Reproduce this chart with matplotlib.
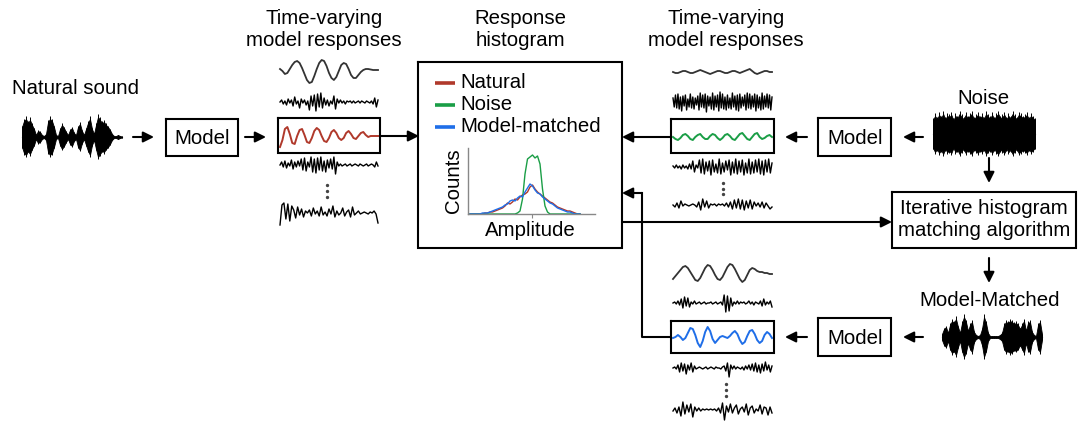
import numpy as np
import matplotlib.pyplot as plt

plt.rcParams['font.family'] = ['Liberation Sans', 'DejaVu Sans']

# ---- waveform envelopes (half amplitude, px) ----
natural_env = [10, 16, 18, 14, 17, 12, 8, 2, 6, 5, 2, 1, 3, 15, 18, 16, 10, 2, 1, 8,
               12, 9, 5, 2, 7, 9, 4, 2, 10, 13, 6, 2, 8, 14, 18, 8, 3, 12, 20, 17,
               14, 15, 12, 10, 7, 3, 1, 1, 2, 1, 0.5]
noise_env = [14, 18, 15, 19, 16, 20, 15, 18, 17, 19, 14, 18, 16, 20, 17, 15, 19, 16, 18, 20,
             15, 17, 19, 16, 18, 15, 20, 17, 16, 19, 15, 18, 20, 16, 17, 19, 15, 18, 16, 20,
             17, 15, 19, 18, 16, 17, 19, 15, 18, 16, 14]
matched_env = [3, 8, 10, 4, 12, 16, 14, 18, 10, 4, 14, 20, 15, 6, 12, 15, 5, 2, 1, 2,
               8, 20, 14, 4, 1, 1, 1, 1, 1, 2, 4, 12, 15, 14, 16, 15, 13, 14, 12, 8,
               12, 16, 6, 14, 15, 5, 2, 1, 12, 15, 3]

# ---- model response traces (deflection, px) ----
nat_r1 = [2, 0, -3, -2, 2, 6, 9, 10, 8, 3, -3, -9, -12, -11, -5, 2, 8, 11, 10, 5, -2,
          -7, -9, -6, 0, 6, 8, 7, 2, -4, -7, -7, -4, -1, 1, 2, 2, 1.5, 1, 1, 1]
nat_r2 = [0, 2, -2, 1, -3, 3, -1, 2, -4, 5, -2, 1, -6, 3, -1, 2, -3, 1, -8, 6, -4, 7, -9, 8,
          -5, 9, -6, 4, -3, 2, -4, 1, -2, 6, -7, 3, -1, 2, -1, 1, -2, 1, 0, 1, -1, 1, -1, 0,
          1, -1, 1, 0, -1, 1, 0, -1, 1, -2, 4, -5, 2]
nat_r3 = [-11, -4, 7, 9, 2, -7, -8, 0, 6, 7, 1, -6, -7, -2, 5, 8, 6, 0, -5, -6, -2, 4, 6, 3,
          -2, -4, -2, 3, 5, 2, -2, -3, 0, 3, 4, 1, -1, 0, 0, 0, 0]
nat_r4 = [0, 3, -2, 4, -3, 2, -1, 5, -4, 3, -2, 4, -1, 6, -5, 7, -6, 3, -2, 8, -7, 6, -8, 7,
          -5, 8, -6, 4, -7, 5, -3, 6, -4, 8, -9, 3, -1, 1, -1, 0, 1, -1, 0, 1, -1, 0, 1, 0,
          -1, 1, 0, -1, 0, 1, -1, 0, 1, 0, -2, 3, -1]
nat_r5 = [-12, 8, 10, -6, 9, -8, 7, 3, -5, 6, -2, 4, -4, 2, 0, 3, -3, 5, -1, 2, -3, 6, -2, 1,
          -3, 4, -1, 7, -4, 2, -2, 0, 5, -3, 1, 3, -4, 6, -2, 0, 2, -1, 0, 1, 0, -1, 1, 0, 2,
          -1, -10]

noi_r1 = [0, -1, -1, 0, 1, 1, 0, -1, -1, 0, 1, 2, 1, 0, -1, -2, -1, 0, 1, 1, 0, -1, -1, 0,
          1, 1, 0, -1, 0, 1, 2, 3, 1, -1, -2, -1, 0, 1, 1, 0, 0]
noi_r2 = [4, -5, 7, -6, 8, -7, 5, -9, 6, -4, 7, -8, 3, -5, 8, -6, 5, -7, 4, -3, 6, -8, 9, -5,
          7, -6, 8, -10, 6, -4, 5, -7, 9, -8, 6, -5, 7, -9, 10, -6, 8, -7, 5, -8, 7, -6, 4, -7,
          9, -5, 6, -8, 7, -9, 8, -6, 5, -4, 7, -8, 9, -6, 8, -7, 6, -5, 8, -9, 7, -6, 5, -8,
          9, -7, 6, -5, 8, -6, 7, -8, 5]
noi_r3 = [0, -2, -3, -1, 2, 3, 1, -2, -3, 0, 2, 3, 0, -2, -2, 1, 3, 2, -1, -3, -1, 2, 3, 1,
          -2, -3, 0, 3, 4, 1, -2, -3, 0, 3, 4, 0, -2, -1, 1, 2, 0]
noi_r4 = [1, -1, 2, -1, 1, -2, 2, -1, 1, -2, 3, -2, 6, -5, 2, -1, 7, -6, 8, -7, 5, -4, 6, -8,
          7, -5, 3, -6, 8, -7, 4, -5, 6, -3, 7, -8, 5, -6, 8, -7, 6, -5, 7, -8, 4, -6, 8, -7,
          5, -6, 7, -5, 8, -7, 6, -8, 7, -5, 8, -6, 4]
noi_r5 = [0, -2, 2, -3, 4, -1, 1, 0, -1, 0, 1, 0, -2, 3, -5, 6, -2, 4, -3, 1, 0, 1, -1, 1, 0,
          1, -1, 2, -2, 3, -4, 5, -3, 6, -4, 5, -5, 4, -3, 5, -4, 3, -1, 2, -2, 3, -3, 2, -1,
          -4, -2]

mm_r1 = [-7, -4, -1, 2, 5, 6, 4, 0, -4, -8, -9, -6, -1, 4, 7, 6, 2, -3, -7, -8, -5, 0, 5, 8,
         7, 3, -2, -7, -10, -8, -3, 2, 4, 3, 1, 0, 0, -1, -1, -2, -2]
mm_r2 = [0, 1, -1, 2, -2, 4, -5, 6, -3, 5, -4, 1, -1, 2, -1, 0, 1, -1, 0, 1, -1, 0, 0, 1, -1,
         0, 1, -1, 0, 1, -2, 8, -9, 7, -8, 5, -3, 1, -1, 2, -1, 1, 0, 1, -1, 0, 2, -1, 1, -2,
         1, 0, -1, 2, -3, 4, -2, 1, -1, 2, -4]
mm_r3 = [-1, 0, 2, 0, -3, -1, 4, 9, 8, 2, -6, -10, -4, 5, 10, 6, -2, -6, -3, 0, 1, 0, -1, 1,
         4, 6, 3, -3, -7, -5, 1, 6, 7, 3, -3, -6, -4, 2, 5, 3, -1]
mm_r4 = [0, 1, -1, 3, -4, 5, -3, 4, -6, 3, -2, 5, -4, 2, -1, 0, 1, 0, -1, 0, 1, -1, 0, 1, 0,
         -1, 1, 0, 0, -1, 1, 2, -3, 5, -9, 3, -1, 2, -1, 1, 0, -1, 1, -2, 2, -1, 3, -2, 4, -3,
         5, -4, 3, -5, 4, -3, 6, -2, 3, -4, 2]
mm_r5 = [-1, 2, -3, 3, -6, 8, -4, 5, -2, 6, -7, 3, -1, 2, -1, 1, 0, 1, 0, 1, 0, 1, -1, 2, -3,
         7, -10, 4, -2, 6, -3, 2, 5, -4, 1, 3, -2, 6, -5, 2, 4, -3, 1, -1, 5, -4, 3, 2, -5, 3,
         -3]

# ---- response histogram counts ----
hist_natural = [0, 0, 0, 0, 0, 0, 1, 1, 2, 2, 3, 4, 5, 6, 8, 11, 10, 12, 15, 14, 17, 19, 20,
                22, 27, 29, 25, 22, 20, 18, 16, 14, 12, 11, 9, 7, 6, 5, 4, 3, 3, 2, 1, 0, 0]
hist_noise = [0, 0, 0, 0, 0, 0, 0, 0, 0, 0, 0, 0, 0, 0, 0, 0, 0, 0, 0, 1, 3, 15, 40, 55, 57,
              59, 56, 58, 50, 25, 8, 2, 0, 0, 0, 0, 0, 0, 0, 0, 0, 0, 0, 0, 0]
hist_matched = [0, 0, 0, 0, 0, 1, 1, 1, 2, 3, 4, 5, 6, 7, 9, 10, 13, 14, 13, 16, 18, 17, 22,
                26, 30, 28, 24, 21, 20, 17, 15, 13, 11, 10, 8, 6, 5, 4, 3, 2, 2, 1, 0, 0, 0]

RED, GREEN, BLUE = '#b0392b', '#1a9e46', '#1f6ee8'
FS = 14.7

fig = plt.figure(figsize=(10.79, 4.21), dpi=100)
ax = fig.add_axes([0, 0, 1, 1])
ax.set_xlim(0, 1079)
ax.set_ylim(421, 0)
ax.axis('off')


def box(x0, y0, x1, y1, lw=1.5):
    ax.plot([x0, x1, x1, x0, x0], [y0, y0, y1, y1, y0], color='k', lw=lw,
            solid_joinstyle='miter')


def arrow(x0, y0, x1, y1):
    ax.annotate('', xy=(x1, y1), xytext=(x0, y0),
                arrowprops=dict(arrowstyle='-|>', color='k', lw=1.5,
                                mutation_scale=16, shrinkA=0, shrinkB=0))


def trace(vals, x0, x1, yc, color='k', lw=1.0):
    xs = np.linspace(x0, x1, len(vals))
    ax.plot(xs, yc - np.asarray(vals, float), color=color, lw=lw)


def sound(env, x0, x1, yc):
    xs = np.linspace(x0, x1, len(env))
    e = np.asarray(env, float)
    ax.fill_between(xs, yc - e, yc + e, color='k', lw=0.6, edgecolor='k')
    ax.vlines(xs, yc - e * 1.15, yc + e * 1.1, color='k', lw=0.7)
    ax.plot([x0, x1], [yc, yc], color='k', lw=0.8)


def dots(x, ys):
    ax.plot([x] * len(ys), ys, ls='none', marker='o', ms=1.4, color='#444444')


def column(traces, x0, x1, centers, dot_x, dot_ys, hl_color, box_y):
    for i, (vals, yc) in enumerate(zip(traces, centers)):
        if i == 2:
            trace(vals, x0, x1, yc, color=hl_color, lw=1.4)
        elif i == 0:
            trace(vals, x0, x1, yc, color='#333333', lw=1.3)
        else:
            trace(vals, x0, x1, yc, lw=1.0)
    box(x0 - 2, box_y[0], x1 + 2, box_y[1])
    dots(dot_x, dot_ys)


# titles
for cx, title in [(324, 'Time-varying\nmodel responses'), (726, 'Time-varying\nmodel responses'),
                  (520, 'Response\nhistogram')]:
    ax.text(cx, 29, title, ha='center', va='center', fontsize=FS, linespacing=1.2)

# natural sound path
ax.text(75, 88, 'Natural sound', ha='center', va='center', fontsize=FS)
sound(natural_env, 22, 122, 137)
arrow(133, 137, 154, 137)
box(166, 119, 238, 156)
ax.text(202, 138, 'Model', ha='center', va='center', fontsize=FS)
arrow(245, 137, 266, 137)
column([nat_r1, nat_r2, nat_r3, nat_r4, nat_r5], 280, 378, [71, 102, 136, 165, 213],
       327, [185, 191, 197], RED, (118, 153))
arrow(380, 136, 419, 136)

# histogram box
box(418, 62, 622, 248)
legend = [('Natural', RED, 83), ('Noise', GREEN, 105), ('Model-matched', BLUE, 127)]
for name, col, yy in legend:
    ax.plot([435, 455], [yy, yy], color=col, lw=2.6, solid_capstyle='butt')
    ax.text(460, yy, name, ha='left', va='center', fontsize=FS)
ax.text(453, 181, 'Counts', ha='center', va='center', rotation=90, fontsize=FS)
ax.text(530, 230, 'Amplitude', ha='center', va='center', fontsize=FS)

hx = fig.add_axes([468 / 1079, (421 - 214) / 421, 127 / 1079, 66 / 421])
bins = np.arange(len(hist_natural))
hx.plot(bins, hist_natural, color=RED, lw=1.0)
hx.plot(bins, hist_noise, color=GREEN, lw=1.0)
hx.plot(bins, hist_matched, color=BLUE, lw=1.0)
hx.set_xlim(-0.8, 50)
hx.set_ylim(0, 66)
hx.set_yticks([])
hx.set_xticks([24.8])
hx.set_xticklabels([])
hx.tick_params(axis='x', length=3, color='#888888', width=0.8)
hx.spines[['top', 'right']].set_visible(False)
for s in ('left', 'bottom'):
    hx.spines[s].set_color('#888888')
    hx.spines[s].set_linewidth(1.0)
hx.patch.set_alpha(0)

# noise path
ax.text(983, 99, 'Noise', ha='center', va='center', fontsize=FS)
sound(noise_env, 933, 1035, 134)
arrow(923, 137, 903, 137)
box(818, 118, 891, 156)
ax.text(855, 138, 'Model', ha='center', va='center', fontsize=FS)
arrow(807, 137, 785, 137)
column([noi_r1, noi_r2, noi_r3, noi_r4, noi_r5], 673, 772, [72, 102, 137, 167, 205],
       723, [183, 189, 194], GREEN, (119, 153))
arrow(671, 137, 622, 137)

# iterative matching
arrow(989, 158, 989, 183)
box(892, 192, 1076, 248)
ax.text(984, 220, 'Iterative histogram\nmatching algorithm', ha='center', va='center',
        fontsize=FS, linespacing=1.2)
arrow(622, 222, 892, 222)
arrow(989, 258, 989, 283)

# model-matched path
ax.text(990, 300, 'Model-Matched', ha='center', va='center', fontsize=FS)
sound(matched_env, 942, 1042, 337)
arrow(923, 337, 903, 337)
box(818, 318, 891, 356)
ax.text(855, 338, 'Model', ha='center', va='center', fontsize=FS)
arrow(807, 337, 785, 337)
column([mm_r1, mm_r2, mm_r3, mm_r4, mm_r5], 673, 772, [272, 303, 337, 368, 410],
       726, [384, 390, 396], BLUE, (321, 353))
ax.plot([671, 642, 642], [337, 337, 193], color='k', lw=1.5)
arrow(642, 193, 622, 193)

fig.savefig('out.png', dpi=100)
